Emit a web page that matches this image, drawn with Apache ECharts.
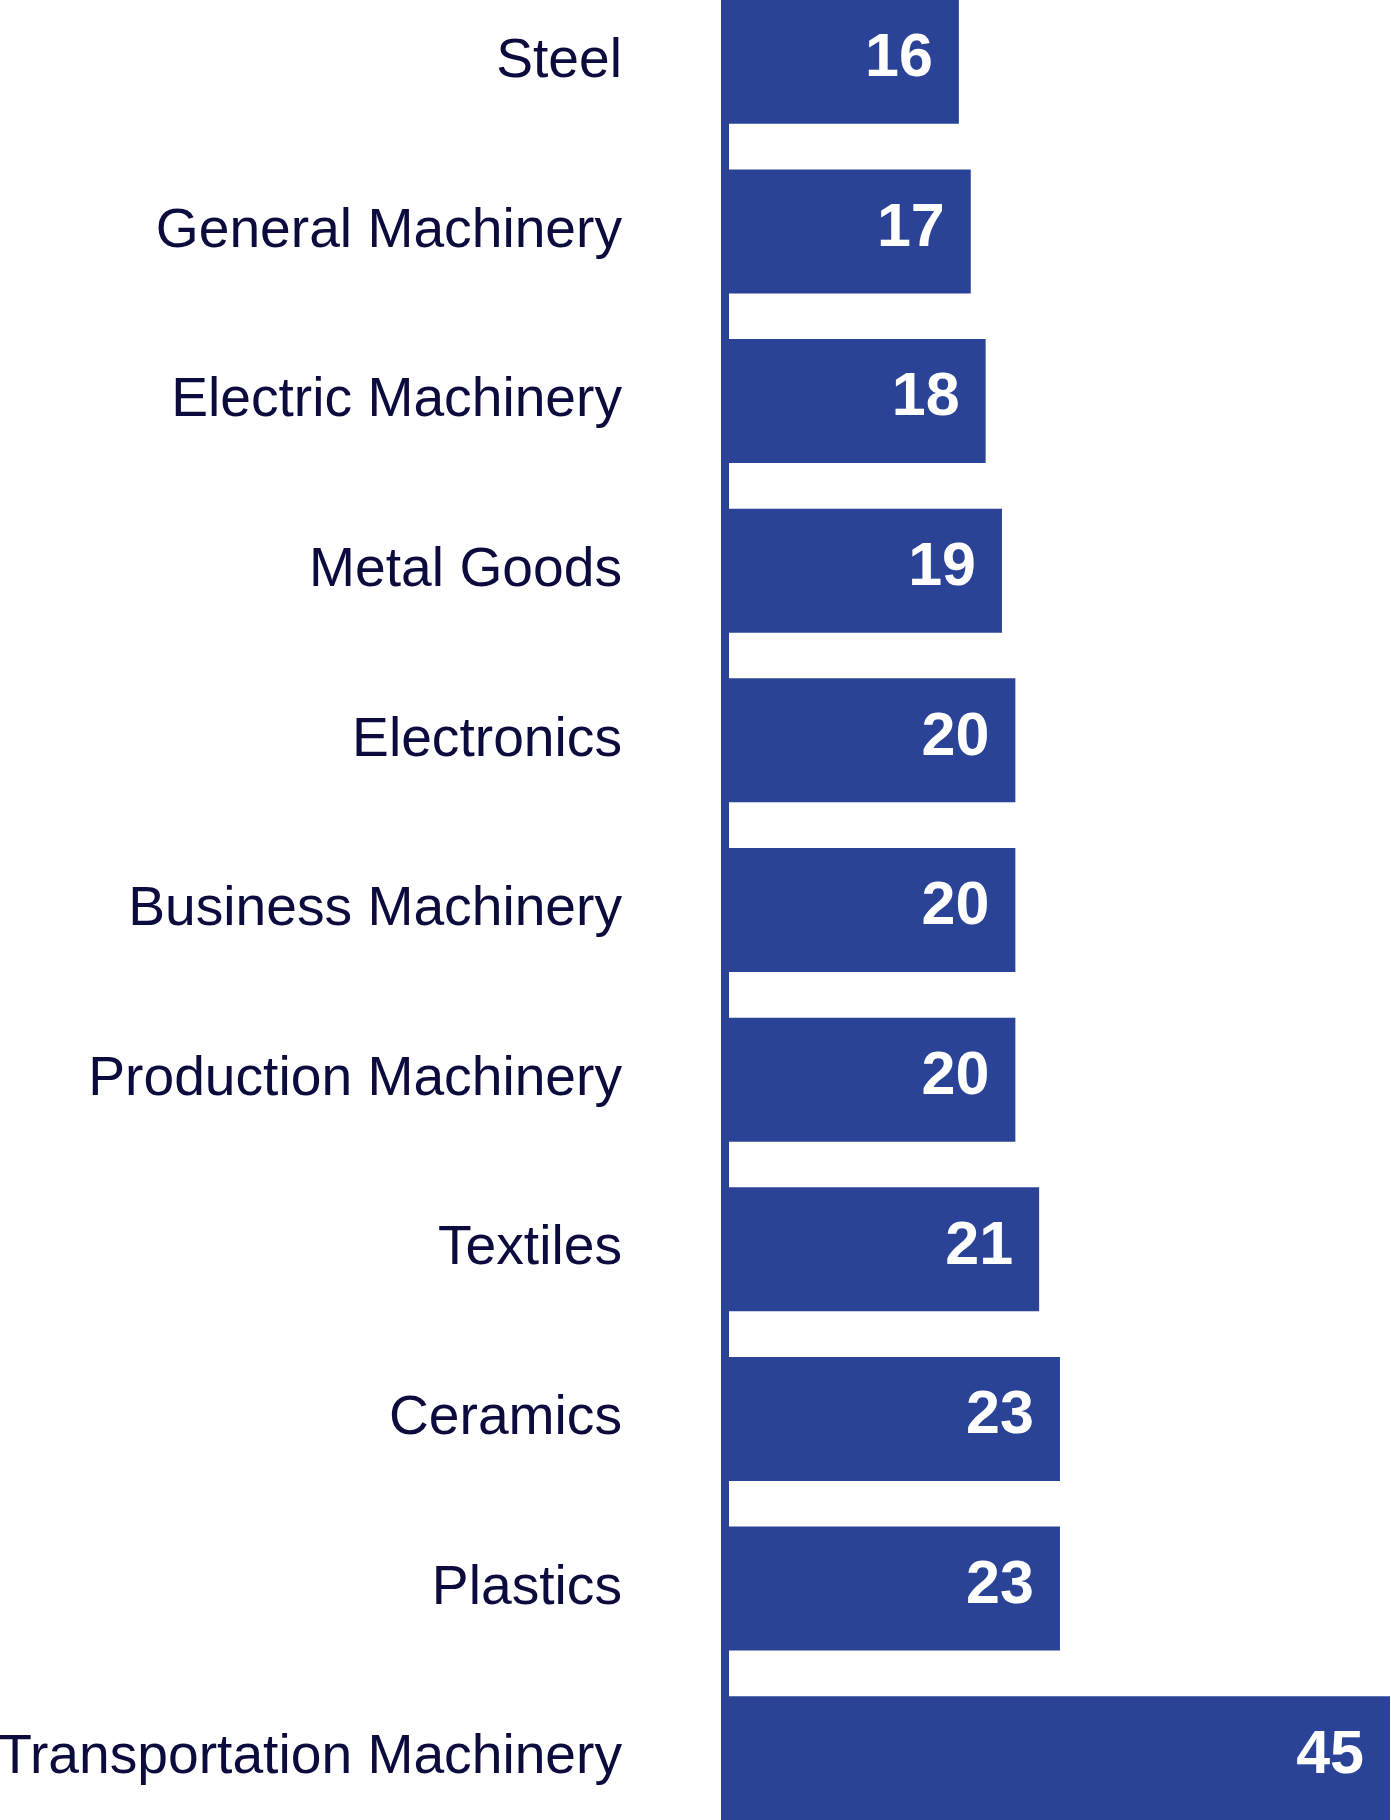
<!DOCTYPE html>
<html>
<head>
<meta charset="utf-8">
<script src="https://cdn.jsdelivr.net/npm/echarts@6/dist/echarts.min.js"></script>
<style>
html,body{margin:0;padding:0;background:#fff;overflow:hidden;width:1391px;height:1820px;}
#chart{width:1391px;height:1866px;margin-top:-23px;}
</style>
</head>
<body>
<div id="chart"></div>
<script>
const categories = ["Steel","General Machinery","Electric Machinery","Metal Goods","Electronics","Business Machinery","Production Machinery","Textiles","Ceramics","Plastics","Transportation Machinery"];
const values = [16.0,16.8,17.8,18.9,19.8,19.8,19.8,21.4,22.8,22.8,45.0];

const chart = echarts.init(document.getElementById('chart'), null, {renderer:'canvas'});
chart.setOption({
  animation:false,
  grid:{left:721,right:1,top:0,bottom:0,containLabel:false,outerBoundsMode:'none'},
  xAxis:{type:'value',min:0,max:45,show:false},
  yAxis:{
    type:'category',data:categories,inverse:true,offset:-4,
    axisLine:{show:true,lineStyle:{color:'#2a4396',width:8}},
    axisTick:{show:false},
    axisLabel:{margin:103,fontFamily:'"Liberation Sans", Arial, sans-serif',fontSize:55.2,color:'#0b0c3d',padding:[0,0,10,0]}
  },
  series:[{
    type:'bar',data:values,barWidth:124,itemStyle:{color:'#2a4396'},
    label:{show:true,position:'insideRight',distance:26,offset:[0,-2.5],color:'#fff',fontWeight:'bold',fontSize:61,
      fontFamily:'"Liberation Sans", Arial, sans-serif',formatter:p=>String(Math.round(p.value))}
  }]
});
</script>
</body>
</html>
